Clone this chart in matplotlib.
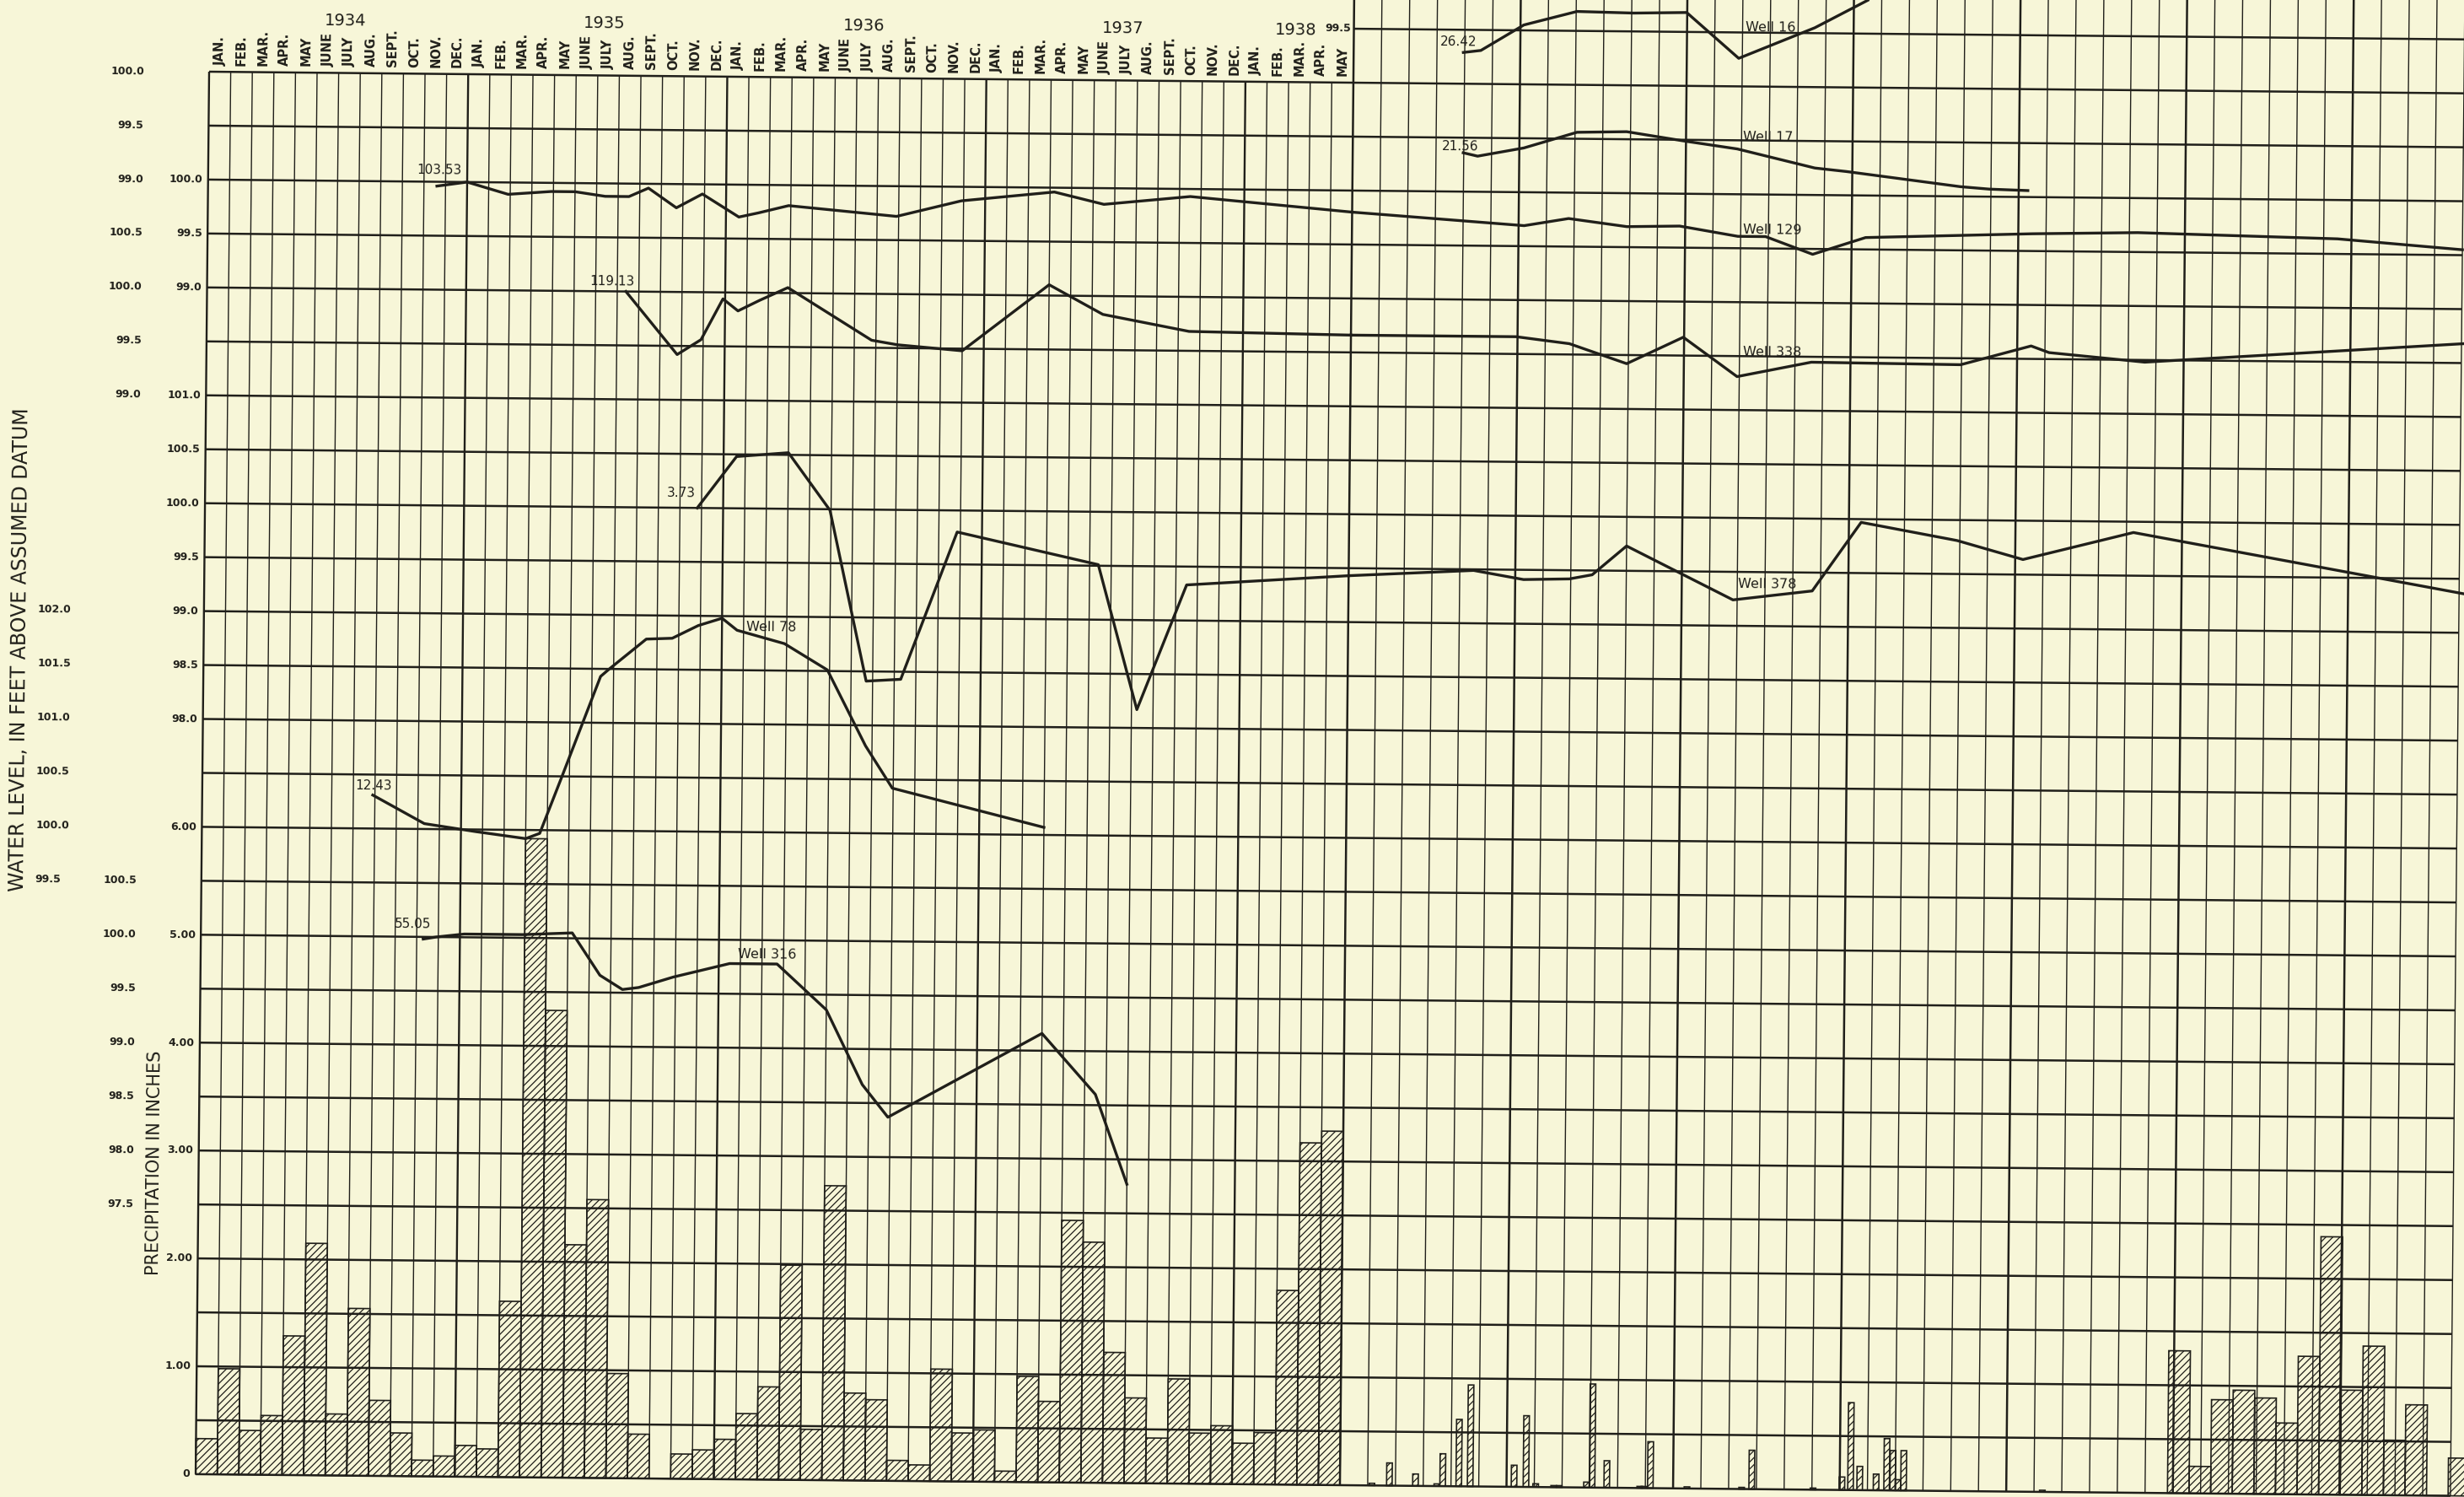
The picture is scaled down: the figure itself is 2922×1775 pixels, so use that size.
import matplotlib
matplotlib.use("Agg")
import matplotlib.pyplot as plt
from matplotlib.transforms import Affine2D, blended_transform_factory

plt.rcParams["font.family"] = ["DejaVu Sans"]
plt.rcParams["hatch.linewidth"] = 0.9

paper = "#f7f6d8"
ink = "#201f1a"

# ---------------- data ----------------
month_names = ["JAN.", "FEB.", "MAR.", "APR.", "MAY", "JUNE",
               "JULY", "AUG.", "SEPT.", "OCT.", "NOV.", "DEC."]
month_labels = month_names * 4 + month_names[:5]   # Jan 1934 .. May 1938
years = ["1934", "1935", "1936", "1937", "1938"]
year_pos = [6.3, 18.3, 30.3, 42.3, 50.3]

# monthly precipitation in inches, Jan 1934 - May 1938
precip = [0.33, 0.98, 0.41, 0.55, 1.29, 2.15, 0.57, 1.55, 0.70, 0.40, 0.15, 0.19,
          0.29, 0.26, 1.63, 5.92, 4.33, 2.16, 2.58, 0.97, 0.41, 0.00, 0.23, 0.27,
          0.37, 0.61, 0.86, 1.99, 0.47, 2.73, 0.81, 0.75, 0.19, 0.15, 1.04, 0.45,
          0.48, 0.10, 0.98, 0.75, 2.43, 2.23, 1.21, 0.79, 0.42, 0.97, 0.47, 0.54,
          0.38, 0.48, 1.80, 3.17, 3.28]

# continuation sheet: narrow bars (x in sheet columns) and monthly bars at the edge
short_pos = [1.15, 1.78, 2.72, 3.49, 3.70, 4.28, 4.69, 6.27, 6.70, 7.05, 7.70, 7.90,
             8.88, 9.08, 9.61, 10.80, 10.95, 11.18, 12.50, 14.47, 14.83, 17.04,
             18.08, 18.39, 18.72, 19.31, 19.69, 19.91, 20.10, 20.30, 25.30]
short_precip = [0.02, 0.21, 0.11, 0.02, 0.30, 0.62, 0.94, 0.20, 0.66, 0.03, 0.015, 0.015,
                0.05, 0.96, 0.25, 0.015, 0.015, 0.43, 0.015, 0.015, 0.36, 0.015,
                0.12, 0.81, 0.22, 0.15, 0.48, 0.37, 0.10, 0.37, 0.015]
late_precip = [1.32, 0.25, 0.87, 0.96, 0.89, 0.66, 1.28, 2.39, 0.97, 1.38, 0.51, 0.84, 0.0, 0.35]
late_start = 91.33   # month slot of the first of these bars

# water levels, feet above assumed datum
# first sheet: x in months after 1 Jan 1934; second sheet: x in its columns
w129_x = [10.6, 12.0, 13.9, 15.9, 17.0, 18.4, 19.5, 20.4, 21.7, 22.9, 24.6, 25.5,
          26.9, 31.9, 34.9, 39.2, 41.5, 45.5, 53.0]
w129_y = [99.96, 100.00, 99.89, 99.92, 99.92, 99.88, 99.88, 99.96, 99.78, 99.91, 99.70, 99.74,
          99.81, 99.72, 99.87, 99.96, 99.85, 99.93, 99.80]
w129_x2 = [0.0, 6.2, 7.8, 9.9, 11.8, 13.9, 14.9, 16.6, 18.5, 24.5, 28.3, 35.5, 40.0]
w129_y2 = [99.80, 99.69, 99.76, 99.69, 99.70, 99.61, 99.61, 99.45, 99.61, 99.66, 99.68, 99.64, 99.55]

w338_x = [19.4, 21.8, 22.9, 23.9, 24.6, 25.6, 26.9, 30.8, 32.0, 35.0, 39.0, 41.5, 45.5, 53.0]
w338_y = [100.00, 99.42, 99.56, 99.94, 99.83, 99.93, 100.05, 99.57, 99.53, 99.48, 100.10,
          99.83, 99.68, 99.66]
w338_x2 = [0.0, 5.95, 7.87, 9.94, 11.97, 13.92, 16.59, 21.97, 24.5, 25.15, 28.6, 40.1]
w338_y2 = [99.66, 99.66, 99.60, 99.42, 99.67, 99.31, 99.45, 99.44, 99.62, 99.56, 99.48, 99.68]

w378_x = [22.8, 24.6, 27.0, 28.95, 30.7, 32.3, 34.85, 41.4, 43.25, 45.5, 53.0]
w378_y = [100.00, 100.48, 100.52, 99.99, 98.41, 98.43, 99.80, 99.51, 98.17, 99.33, 99.43]
w378_x2 = [0.0, 4.5, 6.3, 7.95, 8.77, 10.0, 13.85, 16.7, 18.44, 21.9, 24.28, 28.25, 40.2]
w378_y2 = [99.43, 99.49, 99.41, 99.42, 99.46, 99.73, 99.24, 99.33, 99.97, 99.81, 99.64, 99.90, 99.36]

w78_x = [7.9, 10.3, 12.7, 15.0, 15.65, 16.6, 18.4, 18.8, 20.5, 21.7, 22.9, 24.0, 24.7,
         26.9, 28.9, 30.7, 31.96, 39.0]
w78_y = [100.31, 100.05, 99.98, 99.92, 99.97, 100.47, 101.43, 101.50, 101.78, 101.79, 101.91,
         101.98, 101.87, 101.75, 101.51, 100.81, 100.42, 100.07]

w316_x = [10.3, 10.9, 12.2, 14.9, 17.2, 18.5, 19.55, 20.3, 21.9, 22.9, 24.5, 26.7, 29.0,
          30.7, 31.9, 39.0, 41.5, 43.0]
w316_y = [99.98, 100.00, 100.03, 100.03, 100.05, 99.66, 99.53, 99.55, 99.65, 99.70, 99.78,
          99.78, 99.36, 98.67, 98.37, 99.16, 98.60, 97.77]

w17_x2 = [3.98, 4.5, 6.16, 8.07, 9.86, 11.9, 13.85, 16.65, 17.8, 21.9, 22.94, 24.33]
w17_y2 = [99.36, 99.33, 99.41, 99.56, 99.57, 99.49, 99.42, 99.25, 99.22, 99.09, 99.07, 99.06]

w16_x2 = [3.95, 4.58, 6.12, 8.03, 10.07, 11.98, 13.87, 16.6, 18.5]
w16_y2 = [99.29, 99.31, 99.55, 99.68, 99.67, 99.68, 99.26, 99.55, 99.81]

# ---------------- figure ----------------
W, H = 2922, 1775
fig = plt.figure(figsize=(W / 100, H / 100), dpi=100, facecolor=paper)

x_left, x_split = 248, 1605   # pixel edges of the monthly sheet
y_top, y_base = 85, 1748      # its top border and zero line


def sheet(x0, x1, ncols):
    a = fig.add_axes([x0 / W, (H - y_base) / H, (x1 - x0) / W, (y_base - y_top) / H])
    a.set_xlim(0, ncols)
    a.set_ylim(0, 26)
    a.axis("off")
    a.patch.set_visible(False)
    return a


ax = sheet(x_left, x_split, 53)   # 26 rows of half a foot / half an inch
ax2 = sheet(x_split, W, 40)

# the scanned drawing sits turned a little clockwise
tilt = Affine2D().rotate_deg_around(x_left, H - y_top, -0.55)


def tr(a):
    return a.transData + tilt


def level_axes(parent, row, value, z=1):
    # own y scale: value sits on grid row `row`, 0.5 unit per row
    t = parent.twinx()
    t.set_ylim(value - row * 0.5, value + (26 - row) * 0.5)
    t.axis("off")
    t.patch.set_visible(False)
    t.set_zorder(z)
    return t


# grid
g = dict(colors=ink, clip_on=False, zorder=2)
ax.hlines(range(27), 0, 53, linewidth=1.8, transform=tr(ax), **g)
ax.vlines([m for m in range(1, 53) if m % 12], 0, 26, linewidth=1.0, transform=tr(ax), **g)
ax.vlines([0, 12, 24, 36, 48], 0, 26, linewidth=1.7, transform=tr(ax), **g)
ax2.hlines(range(28), 0, 40, linewidth=1.8, transform=tr(ax2), **g)
ax2.vlines([c for c in range(1, 41) if c % 6], 0, 28.6, linewidth=1.0, transform=tr(ax2), **g)
ax2.vlines(range(0, 41, 6), 0, 28.6, linewidth=1.8, transform=tr(ax2), **g)

# precipitation bars
bar_style = dict(facecolor="none", edgecolor=ink, hatch="////", linewidth=1.2, clip_on=False)
ax_p = level_axes(ax, 0, 0.0, z=-1)
ax_p.bar(range(len(precip)), precip, width=1, align="edge", transform=tr(ax_p), **bar_style)
ax_p.bar([late_start + i for i in range(len(late_precip))], late_precip, width=1,
         align="edge", transform=tr(ax_p), **bar_style)
ax2_p = level_axes(ax2, 0, 0.0, z=-1)
ax2_p.bar(short_pos, short_precip, width=0.2, transform=tr(ax2_p), **bar_style)

# hydrographs
line_style = dict(color=ink, linewidth=2.4, clip_on=False)
w129 = level_axes(ax, 24, 100.0)
w129.plot(w129_x, w129_y, transform=tr(w129), **line_style)
w129b = level_axes(ax2, 24, 100.0)
w129b.plot(w129_x2, w129_y2, transform=tr(w129b), **line_style)

w338 = level_axes(ax, 22, 100.0)
w338.plot(w338_x, w338_y, transform=tr(w338), **line_style)
w338b = level_axes(ax2, 22, 100.0)
w338b.plot(w338_x2, w338_y2, transform=tr(w338b), **line_style)

w378 = level_axes(ax, 18, 100.0)
w378.plot(w378_x, w378_y, transform=tr(w378), **line_style)
w378b = level_axes(ax2, 18, 100.0)
w378b.plot(w378_x2, w378_y2, transform=tr(w378b), **line_style)

w78 = level_axes(ax, 12, 100.0)
w78.plot(w78_x, w78_y, transform=tr(w78), **line_style)

w316 = level_axes(ax, 10, 100.0)
w316.plot(w316_x, w316_y, transform=tr(w316), **line_style)

w17 = level_axes(ax2, 26, 100.0)
w17.plot(w17_x2, w17_y2, transform=tr(w17), **line_style)

w16 = level_axes(ax2, 27, 99.5)
w16.plot(w16_x2, w16_y2, transform=tr(w16), **line_style)


# scale numbers left of the grid, each on its well's own scale
def scale_text(xax, yax, x, values, ha, fmt="{:.1f}"):
    t = blended_transform_factory(xax.transData, yax.transData) + tilt
    for v in values:
        s = fmt.format(v) if v != 0 else "0"
        xax.text(x, v, s, transform=t, ha=ha, va="center", rotation=-0.55,
                 fontsize=9, fontweight="bold", color=ink)


scale_text(ax, w78, -7.7, [102.0, 101.5, 101.0, 100.5, 100.0, 99.5], "left")
scale_text(ax, w17, -3.0, [100.0, 99.5, 99.0], "right")
scale_text(ax, w338, -3.0, [100.5, 100.0, 99.5, 99.0], "right")
scale_text(ax, w316, -3.0, [100.5, 100.0, 99.5, 99.0, 98.5, 98.0, 97.5], "right")
scale_text(ax, w129, -0.25, [100.0, 99.5, 99.0], "right")
scale_text(ax, w378, -0.25, [101.0, 100.5, 100.0, 99.5, 99.0, 98.5, 98.0], "right")
scale_text(ax, ax_p, -0.25, [6, 5, 4, 3, 2, 1, 0], "right", fmt="{:.2f}")
scale_text(ax2, w16, -0.1, [99.5], "right")

# month and year headings
for k, name in enumerate(month_labels):
    ax.text(k + 0.5, 26.12, name, transform=tr(ax), rotation=89.45, rotation_mode="anchor",
            ha="left", va="center", fontsize=10.5, fontweight="bold", color=ink)
for yr, pos in zip(years, year_pos):
    ax.text(pos, 26.97, yr, transform=tr(ax), ha="center", va="center", rotation=-0.55,
            fontsize=14, color=ink)

# well names and first readings
notes = [(ax, "103.53", 10.7, 24.21, 11), (ax, "119.13", 18.77, 22.19, 11),
         (ax, "3.73", 22.06, 18.27, 11), (ax, "12.43", 7.93, 12.79, 11),
         (ax, "55.05", 9.83, 10.24, 11), (ax, "Well 78", 26.3, 15.8, 11.5),
         (ax, "Well 316", 26.25, 9.73, 11.5),
         (ax2, "26.42", 3.76, 26.78, 11), (ax2, "Well 16", 15.02, 27.09, 11.5),
         (ax2, "21.56", 3.88, 24.83, 11), (ax2, "Well 17", 14.96, 25.06, 11.5),
         (ax2, "Well 129", 15.15, 23.34, 11.5), (ax2, "Well 338", 15.19, 21.07, 11.5),
         (ax2, "Well 378", 15.09, 16.77, 11.5)]
for a, s, x, y, fs in notes:
    a.text(x, y, s, transform=tr(a), ha="center", va="center", rotation=-0.55,
           fontsize=fs, fontweight="medium", color=ink)

# axis titles
ax.text(-8.49, 15.26, "WATER LEVEL, IN FEET ABOVE ASSUMED DATUM", transform=tr(ax),
        rotation=89.45, ha="center", va="center", fontsize=17, color=ink)
ax.text(-2.05, 5.76, "PRECIPITATION IN INCHES", transform=tr(ax),
        rotation=89.45, ha="center", va="center", fontsize=15, color=ink)

fig.savefig("out.png", dpi=100, facecolor=paper)
